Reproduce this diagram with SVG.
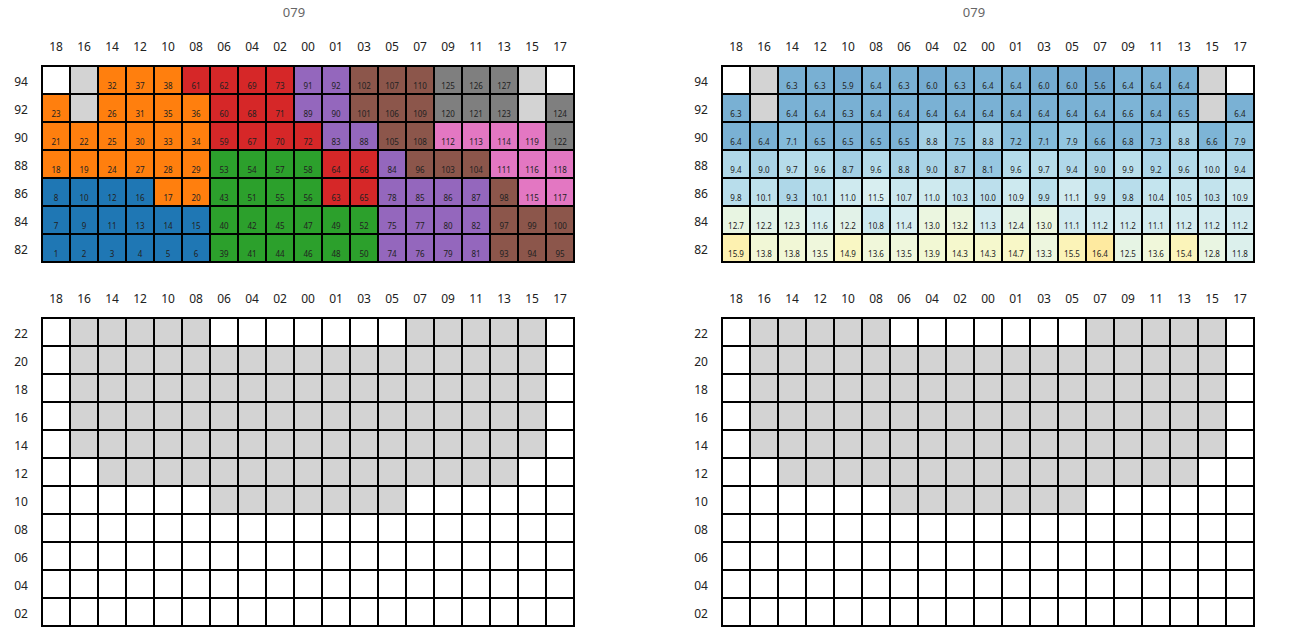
<svg xmlns="http://www.w3.org/2000/svg" xmlns:xlink="http://www.w3.org/1999/xlink" width="1305" height="639" viewBox="0 0 1305 639">
<style>
text{font-family:"Noto Sans","DejaVu Sans",sans-serif}
.t{font-size:13px;fill:#666;text-anchor:middle}
.l{font-size:12px;fill:#222;text-anchor:middle}
.v{font-size:8px;fill:#222;text-anchor:middle}
.cells rect{stroke:#000;stroke-width:2}
.wh{fill:#fff}.lg{fill:#d3d3d3}
.bl{fill:#1f77b4}.or{fill:#ff7f0e}.gr{fill:#2ca02c}.rd{fill:#d62728}
.pu{fill:#9467bd}.br{fill:#8c564b}.pk{fill:#e377c2}.gy{fill:#7f7f7f}
.grid{fill:none;stroke:#000;stroke-width:2}
</style>
<defs>
<g id="collabels">
<text class="l" x="56">18</text><text class="l" x="84">16</text><text class="l" x="112">14</text><text class="l" x="140">12</text><text class="l" x="168">10</text><text class="l" x="196">08</text><text class="l" x="224">06</text><text class="l" x="252">04</text><text class="l" x="280">02</text><text class="l" x="308">00</text><text class="l" x="336">01</text><text class="l" x="364">03</text><text class="l" x="392">05</text><text class="l" x="420">07</text><text class="l" x="448">09</text><text class="l" x="476">11</text><text class="l" x="504">13</text><text class="l" x="532">15</text><text class="l" x="560">17</text>
</g>
<g id="toprows">
<text class="l" x="21" y="86">94</text><text class="l" x="21" y="114">92</text><text class="l" x="21" y="142">90</text><text class="l" x="21" y="170">88</text><text class="l" x="21" y="198">86</text><text class="l" x="21" y="226">84</text><text class="l" x="21" y="254">82</text>
</g>
<g id="bottomgrid">
<rect x="42" y="318" width="532" height="308" fill="#fff"/>
<g fill="#d3d3d3">
<rect x="70" y="318" width="140" height="28"/>
<rect x="406" y="318" width="140" height="28"/>
<rect x="70" y="346" width="476" height="112"/>
<rect x="98" y="458" width="420" height="28"/>
<rect x="210" y="486" width="196" height="28"/>
</g>
<path class="grid" d="M70 318V626M98 318V626M126 318V626M154 318V626M182 318V626M210 318V626M238 318V626M266 318V626M294 318V626M322 318V626M350 318V626M378 318V626M406 318V626M434 318V626M462 318V626M490 318V626M518 318V626M546 318V626M42 346H574M42 374H574M42 402H574M42 430H574M42 458H574M42 486H574M42 514H574M42 542H574M42 570H574M42 598H574"/>
<rect class="grid" x="42" y="318" width="532" height="308"/>
<use xlink:href="#collabels" href="#collabels" y="303"/>
<text class="l" x="21" y="338">22</text><text class="l" x="21" y="366">20</text><text class="l" x="21" y="394">18</text><text class="l" x="21" y="422">16</text><text class="l" x="21" y="450">14</text><text class="l" x="21" y="478">12</text><text class="l" x="21" y="506">10</text><text class="l" x="21" y="534">08</text><text class="l" x="21" y="562">06</text><text class="l" x="21" y="590">04</text><text class="l" x="21" y="618">02</text>
</g>
</defs>
<rect width="1305" height="639" fill="#fff"/>

<g id="panel-top-left">
<text class="t" x="294" y="17">079</text>
<use xlink:href="#collabels" href="#collabels" y="51"/>
<use xlink:href="#toprows" href="#toprows"/>
<g class="cells">
<rect class="wh" x="42" y="66" width="28" height="28"/><rect class="lg" x="70" y="66" width="28" height="28"/><rect class="or" x="98" y="66" width="28" height="28"/><rect class="or" x="126" y="66" width="28" height="28"/><rect class="or" x="154" y="66" width="28" height="28"/><rect class="rd" x="182" y="66" width="28" height="28"/><rect class="rd" x="210" y="66" width="28" height="28"/><rect class="rd" x="238" y="66" width="28" height="28"/><rect class="rd" x="266" y="66" width="28" height="28"/><rect class="pu" x="294" y="66" width="28" height="28"/><rect class="pu" x="322" y="66" width="28" height="28"/><rect class="br" x="350" y="66" width="28" height="28"/><rect class="br" x="378" y="66" width="28" height="28"/><rect class="br" x="406" y="66" width="28" height="28"/><rect class="gy" x="434" y="66" width="28" height="28"/><rect class="gy" x="462" y="66" width="28" height="28"/><rect class="gy" x="490" y="66" width="28" height="28"/><rect class="lg" x="518" y="66" width="28" height="28"/><rect class="wh" x="546" y="66" width="28" height="28"/>
<rect class="or" x="42" y="94" width="28" height="28"/><rect class="lg" x="70" y="94" width="28" height="28"/><rect class="or" x="98" y="94" width="28" height="28"/><rect class="or" x="126" y="94" width="28" height="28"/><rect class="or" x="154" y="94" width="28" height="28"/><rect class="or" x="182" y="94" width="28" height="28"/><rect class="rd" x="210" y="94" width="28" height="28"/><rect class="rd" x="238" y="94" width="28" height="28"/><rect class="rd" x="266" y="94" width="28" height="28"/><rect class="pu" x="294" y="94" width="28" height="28"/><rect class="pu" x="322" y="94" width="28" height="28"/><rect class="br" x="350" y="94" width="28" height="28"/><rect class="br" x="378" y="94" width="28" height="28"/><rect class="br" x="406" y="94" width="28" height="28"/><rect class="gy" x="434" y="94" width="28" height="28"/><rect class="gy" x="462" y="94" width="28" height="28"/><rect class="gy" x="490" y="94" width="28" height="28"/><rect class="lg" x="518" y="94" width="28" height="28"/><rect class="gy" x="546" y="94" width="28" height="28"/>
<rect class="or" x="42" y="122" width="28" height="28"/><rect class="or" x="70" y="122" width="28" height="28"/><rect class="or" x="98" y="122" width="28" height="28"/><rect class="or" x="126" y="122" width="28" height="28"/><rect class="or" x="154" y="122" width="28" height="28"/><rect class="or" x="182" y="122" width="28" height="28"/><rect class="rd" x="210" y="122" width="28" height="28"/><rect class="rd" x="238" y="122" width="28" height="28"/><rect class="rd" x="266" y="122" width="28" height="28"/><rect class="rd" x="294" y="122" width="28" height="28"/><rect class="pu" x="322" y="122" width="28" height="28"/><rect class="pu" x="350" y="122" width="28" height="28"/><rect class="br" x="378" y="122" width="28" height="28"/><rect class="br" x="406" y="122" width="28" height="28"/><rect class="pk" x="434" y="122" width="28" height="28"/><rect class="pk" x="462" y="122" width="28" height="28"/><rect class="pk" x="490" y="122" width="28" height="28"/><rect class="pk" x="518" y="122" width="28" height="28"/><rect class="gy" x="546" y="122" width="28" height="28"/>
<rect class="or" x="42" y="150" width="28" height="28"/><rect class="or" x="70" y="150" width="28" height="28"/><rect class="or" x="98" y="150" width="28" height="28"/><rect class="or" x="126" y="150" width="28" height="28"/><rect class="or" x="154" y="150" width="28" height="28"/><rect class="or" x="182" y="150" width="28" height="28"/><rect class="gr" x="210" y="150" width="28" height="28"/><rect class="gr" x="238" y="150" width="28" height="28"/><rect class="gr" x="266" y="150" width="28" height="28"/><rect class="gr" x="294" y="150" width="28" height="28"/><rect class="rd" x="322" y="150" width="28" height="28"/><rect class="rd" x="350" y="150" width="28" height="28"/><rect class="pu" x="378" y="150" width="28" height="28"/><rect class="br" x="406" y="150" width="28" height="28"/><rect class="br" x="434" y="150" width="28" height="28"/><rect class="br" x="462" y="150" width="28" height="28"/><rect class="pk" x="490" y="150" width="28" height="28"/><rect class="pk" x="518" y="150" width="28" height="28"/><rect class="pk" x="546" y="150" width="28" height="28"/>
<rect class="bl" x="42" y="178" width="28" height="28"/><rect class="bl" x="70" y="178" width="28" height="28"/><rect class="bl" x="98" y="178" width="28" height="28"/><rect class="bl" x="126" y="178" width="28" height="28"/><rect class="or" x="154" y="178" width="28" height="28"/><rect class="or" x="182" y="178" width="28" height="28"/><rect class="gr" x="210" y="178" width="28" height="28"/><rect class="gr" x="238" y="178" width="28" height="28"/><rect class="gr" x="266" y="178" width="28" height="28"/><rect class="gr" x="294" y="178" width="28" height="28"/><rect class="rd" x="322" y="178" width="28" height="28"/><rect class="rd" x="350" y="178" width="28" height="28"/><rect class="pu" x="378" y="178" width="28" height="28"/><rect class="pu" x="406" y="178" width="28" height="28"/><rect class="pu" x="434" y="178" width="28" height="28"/><rect class="pu" x="462" y="178" width="28" height="28"/><rect class="br" x="490" y="178" width="28" height="28"/><rect class="pk" x="518" y="178" width="28" height="28"/><rect class="pk" x="546" y="178" width="28" height="28"/>
<rect class="bl" x="42" y="206" width="28" height="28"/><rect class="bl" x="70" y="206" width="28" height="28"/><rect class="bl" x="98" y="206" width="28" height="28"/><rect class="bl" x="126" y="206" width="28" height="28"/><rect class="bl" x="154" y="206" width="28" height="28"/><rect class="bl" x="182" y="206" width="28" height="28"/><rect class="gr" x="210" y="206" width="28" height="28"/><rect class="gr" x="238" y="206" width="28" height="28"/><rect class="gr" x="266" y="206" width="28" height="28"/><rect class="gr" x="294" y="206" width="28" height="28"/><rect class="gr" x="322" y="206" width="28" height="28"/><rect class="gr" x="350" y="206" width="28" height="28"/><rect class="pu" x="378" y="206" width="28" height="28"/><rect class="pu" x="406" y="206" width="28" height="28"/><rect class="pu" x="434" y="206" width="28" height="28"/><rect class="pu" x="462" y="206" width="28" height="28"/><rect class="br" x="490" y="206" width="28" height="28"/><rect class="br" x="518" y="206" width="28" height="28"/><rect class="br" x="546" y="206" width="28" height="28"/>
<rect class="bl" x="42" y="234" width="28" height="28"/><rect class="bl" x="70" y="234" width="28" height="28"/><rect class="bl" x="98" y="234" width="28" height="28"/><rect class="bl" x="126" y="234" width="28" height="28"/><rect class="bl" x="154" y="234" width="28" height="28"/><rect class="bl" x="182" y="234" width="28" height="28"/><rect class="gr" x="210" y="234" width="28" height="28"/><rect class="gr" x="238" y="234" width="28" height="28"/><rect class="gr" x="266" y="234" width="28" height="28"/><rect class="gr" x="294" y="234" width="28" height="28"/><rect class="gr" x="322" y="234" width="28" height="28"/><rect class="gr" x="350" y="234" width="28" height="28"/><rect class="pu" x="378" y="234" width="28" height="28"/><rect class="pu" x="406" y="234" width="28" height="28"/><rect class="pu" x="434" y="234" width="28" height="28"/><rect class="pu" x="462" y="234" width="28" height="28"/><rect class="br" x="490" y="234" width="28" height="28"/><rect class="br" x="518" y="234" width="28" height="28"/><rect class="br" x="546" y="234" width="28" height="28"/>
</g>
<g class="vals">
<text class="v" x="112" y="88.5">32</text><text class="v" x="140" y="88.5">37</text><text class="v" x="168" y="88.5">38</text><text class="v" x="196" y="88.5">61</text><text class="v" x="224" y="88.5">62</text><text class="v" x="252" y="88.5">69</text><text class="v" x="280" y="88.5">73</text><text class="v" x="308" y="88.5">91</text><text class="v" x="336" y="88.5">92</text><text class="v" x="364" y="88.5">102</text><text class="v" x="392" y="88.5">107</text><text class="v" x="420" y="88.5">110</text><text class="v" x="448" y="88.5">125</text><text class="v" x="476" y="88.5">126</text><text class="v" x="504" y="88.5">127</text>
<text class="v" x="56" y="116.5">23</text><text class="v" x="112" y="116.5">26</text><text class="v" x="140" y="116.5">31</text><text class="v" x="168" y="116.5">35</text><text class="v" x="196" y="116.5">36</text><text class="v" x="224" y="116.5">60</text><text class="v" x="252" y="116.5">68</text><text class="v" x="280" y="116.5">71</text><text class="v" x="308" y="116.5">89</text><text class="v" x="336" y="116.5">90</text><text class="v" x="364" y="116.5">101</text><text class="v" x="392" y="116.5">106</text><text class="v" x="420" y="116.5">109</text><text class="v" x="448" y="116.5">120</text><text class="v" x="476" y="116.5">121</text><text class="v" x="504" y="116.5">123</text><text class="v" x="560" y="116.5">124</text>
<text class="v" x="56" y="144.5">21</text><text class="v" x="84" y="144.5">22</text><text class="v" x="112" y="144.5">25</text><text class="v" x="140" y="144.5">30</text><text class="v" x="168" y="144.5">33</text><text class="v" x="196" y="144.5">34</text><text class="v" x="224" y="144.5">59</text><text class="v" x="252" y="144.5">67</text><text class="v" x="280" y="144.5">70</text><text class="v" x="308" y="144.5">72</text><text class="v" x="336" y="144.5">83</text><text class="v" x="364" y="144.5">88</text><text class="v" x="392" y="144.5">105</text><text class="v" x="420" y="144.5">108</text><text class="v" x="448" y="144.5">112</text><text class="v" x="476" y="144.5">113</text><text class="v" x="504" y="144.5">114</text><text class="v" x="532" y="144.5">119</text><text class="v" x="560" y="144.5">122</text>
<text class="v" x="56" y="172.5">18</text><text class="v" x="84" y="172.5">19</text><text class="v" x="112" y="172.5">24</text><text class="v" x="140" y="172.5">27</text><text class="v" x="168" y="172.5">28</text><text class="v" x="196" y="172.5">29</text><text class="v" x="224" y="172.5">53</text><text class="v" x="252" y="172.5">54</text><text class="v" x="280" y="172.5">57</text><text class="v" x="308" y="172.5">58</text><text class="v" x="336" y="172.5">64</text><text class="v" x="364" y="172.5">66</text><text class="v" x="392" y="172.5">84</text><text class="v" x="420" y="172.5">96</text><text class="v" x="448" y="172.5">103</text><text class="v" x="476" y="172.5">104</text><text class="v" x="504" y="172.5">111</text><text class="v" x="532" y="172.5">116</text><text class="v" x="560" y="172.5">118</text>
<text class="v" x="56" y="200.5">8</text><text class="v" x="84" y="200.5">10</text><text class="v" x="112" y="200.5">12</text><text class="v" x="140" y="200.5">16</text><text class="v" x="168" y="200.5">17</text><text class="v" x="196" y="200.5">20</text><text class="v" x="224" y="200.5">43</text><text class="v" x="252" y="200.5">51</text><text class="v" x="280" y="200.5">55</text><text class="v" x="308" y="200.5">56</text><text class="v" x="336" y="200.5">63</text><text class="v" x="364" y="200.5">65</text><text class="v" x="392" y="200.5">78</text><text class="v" x="420" y="200.5">85</text><text class="v" x="448" y="200.5">86</text><text class="v" x="476" y="200.5">87</text><text class="v" x="504" y="200.5">98</text><text class="v" x="532" y="200.5">115</text><text class="v" x="560" y="200.5">117</text>
<text class="v" x="56" y="228.5">7</text><text class="v" x="84" y="228.5">9</text><text class="v" x="112" y="228.5">11</text><text class="v" x="140" y="228.5">13</text><text class="v" x="168" y="228.5">14</text><text class="v" x="196" y="228.5">15</text><text class="v" x="224" y="228.5">40</text><text class="v" x="252" y="228.5">42</text><text class="v" x="280" y="228.5">45</text><text class="v" x="308" y="228.5">47</text><text class="v" x="336" y="228.5">49</text><text class="v" x="364" y="228.5">52</text><text class="v" x="392" y="228.5">75</text><text class="v" x="420" y="228.5">77</text><text class="v" x="448" y="228.5">80</text><text class="v" x="476" y="228.5">82</text><text class="v" x="504" y="228.5">97</text><text class="v" x="532" y="228.5">99</text><text class="v" x="560" y="228.5">100</text>
<text class="v" x="56" y="256.5">1</text><text class="v" x="84" y="256.5">2</text><text class="v" x="112" y="256.5">3</text><text class="v" x="140" y="256.5">4</text><text class="v" x="168" y="256.5">5</text><text class="v" x="196" y="256.5">6</text><text class="v" x="224" y="256.5">39</text><text class="v" x="252" y="256.5">41</text><text class="v" x="280" y="256.5">44</text><text class="v" x="308" y="256.5">46</text><text class="v" x="336" y="256.5">48</text><text class="v" x="364" y="256.5">50</text><text class="v" x="392" y="256.5">74</text><text class="v" x="420" y="256.5">76</text><text class="v" x="448" y="256.5">79</text><text class="v" x="476" y="256.5">81</text><text class="v" x="504" y="256.5">93</text><text class="v" x="532" y="256.5">94</text><text class="v" x="560" y="256.5">95</text>
</g>
</g>

<g id="panel-top-right" transform="translate(680,0)">
<text class="t" x="294" y="17">079</text>
<use xlink:href="#collabels" href="#collabels" y="51"/>
<use xlink:href="#toprows" href="#toprows"/>
<g class="cells">
<rect class="wh" x="42" y="66" width="28" height="28"/><rect class="lg" x="70" y="66" width="28" height="28"/><rect fill="#79b0d3" x="98" y="66" width="28" height="28"/><rect fill="#79b0d3" x="126" y="66" width="28" height="28"/><rect fill="#73aad0" x="154" y="66" width="28" height="28"/><rect fill="#7ab1d4" x="182" y="66" width="28" height="28"/><rect fill="#79b0d3" x="210" y="66" width="28" height="28"/><rect fill="#75acd1" x="238" y="66" width="28" height="28"/><rect fill="#79b0d3" x="266" y="66" width="28" height="28"/><rect fill="#7ab1d4" x="294" y="66" width="28" height="28"/><rect fill="#7ab1d4" x="322" y="66" width="28" height="28"/><rect fill="#75acd1" x="350" y="66" width="28" height="28"/><rect fill="#75acd1" x="378" y="66" width="28" height="28"/><rect fill="#6fa6cd" x="406" y="66" width="28" height="28"/><rect fill="#7ab1d4" x="434" y="66" width="28" height="28"/><rect fill="#7ab1d4" x="462" y="66" width="28" height="28"/><rect fill="#7ab1d4" x="490" y="66" width="28" height="28"/><rect class="lg" x="518" y="66" width="28" height="28"/><rect class="wh" x="546" y="66" width="28" height="28"/>
<rect fill="#79b0d3" x="42" y="94" width="28" height="28"/><rect class="lg" x="70" y="94" width="28" height="28"/><rect fill="#7ab1d4" x="98" y="94" width="28" height="28"/><rect fill="#7ab1d4" x="126" y="94" width="28" height="28"/><rect fill="#79b0d3" x="154" y="94" width="28" height="28"/><rect fill="#7ab1d4" x="182" y="94" width="28" height="28"/><rect fill="#7ab1d4" x="210" y="94" width="28" height="28"/><rect fill="#7ab1d4" x="238" y="94" width="28" height="28"/><rect fill="#7ab1d4" x="266" y="94" width="28" height="28"/><rect fill="#7ab1d4" x="294" y="94" width="28" height="28"/><rect fill="#7ab1d4" x="322" y="94" width="28" height="28"/><rect fill="#7ab1d4" x="350" y="94" width="28" height="28"/><rect fill="#7ab1d4" x="378" y="94" width="28" height="28"/><rect fill="#7ab1d4" x="406" y="94" width="28" height="28"/><rect fill="#7db4d6" x="434" y="94" width="28" height="28"/><rect fill="#7ab1d4" x="462" y="94" width="28" height="28"/><rect fill="#7cb2d5" x="490" y="94" width="28" height="28"/><rect class="lg" x="518" y="94" width="28" height="28"/><rect fill="#7ab1d4" x="546" y="94" width="28" height="28"/>
<rect fill="#7ab1d4" x="42" y="122" width="28" height="28"/><rect fill="#7ab1d4" x="70" y="122" width="28" height="28"/><rect fill="#84bbda" x="98" y="122" width="28" height="28"/><rect fill="#7cb2d5" x="126" y="122" width="28" height="28"/><rect fill="#7cb2d5" x="154" y="122" width="28" height="28"/><rect fill="#7cb2d5" x="182" y="122" width="28" height="28"/><rect fill="#7cb2d5" x="210" y="122" width="28" height="28"/><rect fill="#a5d0e5" x="238" y="122" width="28" height="28"/><rect fill="#8ac0dd" x="266" y="122" width="28" height="28"/><rect fill="#a5d0e5" x="294" y="122" width="28" height="28"/><rect fill="#86bcdb" x="322" y="122" width="28" height="28"/><rect fill="#84bbda" x="350" y="122" width="28" height="28"/><rect fill="#92c5e0" x="378" y="122" width="28" height="28"/><rect fill="#7db4d6" x="406" y="122" width="28" height="28"/><rect fill="#80b6d7" x="434" y="122" width="28" height="28"/><rect fill="#87bddc" x="462" y="122" width="28" height="28"/><rect fill="#a5d0e5" x="490" y="122" width="28" height="28"/><rect fill="#7db4d6" x="518" y="122" width="28" height="28"/><rect fill="#92c5e0" x="546" y="122" width="28" height="28"/>
<rect fill="#b0d8e9" x="42" y="150" width="28" height="28"/><rect fill="#a9d3e6" x="70" y="150" width="28" height="28"/><rect fill="#b6dcea" x="98" y="150" width="28" height="28"/><rect fill="#b4dbea" x="126" y="150" width="28" height="28"/><rect fill="#a3cfe4" x="154" y="150" width="28" height="28"/><rect fill="#b4dbea" x="182" y="150" width="28" height="28"/><rect fill="#a5d0e5" x="210" y="150" width="28" height="28"/><rect fill="#a9d3e6" x="238" y="150" width="28" height="28"/><rect fill="#a3cfe4" x="266" y="150" width="28" height="28"/><rect fill="#96c7e1" x="294" y="150" width="28" height="28"/><rect fill="#b4dbea" x="322" y="150" width="28" height="28"/><rect fill="#b6dcea" x="350" y="150" width="28" height="28"/><rect fill="#b0d8e9" x="378" y="150" width="28" height="28"/><rect fill="#a9d3e6" x="406" y="150" width="28" height="28"/><rect fill="#badfeb" x="434" y="150" width="28" height="28"/><rect fill="#acd6e8" x="462" y="150" width="28" height="28"/><rect fill="#b4dbea" x="490" y="150" width="28" height="28"/><rect fill="#bcdfec" x="518" y="150" width="28" height="28"/><rect fill="#b0d8e9" x="546" y="150" width="28" height="28"/>
<rect fill="#b8ddeb" x="42" y="178" width="28" height="28"/><rect fill="#bee1ec" x="70" y="178" width="28" height="28"/><rect fill="#aed7e8" x="98" y="178" width="28" height="28"/><rect fill="#bee1ec" x="126" y="178" width="28" height="28"/><rect fill="#cfeaef" x="154" y="178" width="28" height="28"/><rect fill="#d8eef0" x="182" y="178" width="28" height="28"/><rect fill="#cae7ee" x="210" y="178" width="28" height="28"/><rect fill="#cfeaef" x="238" y="178" width="28" height="28"/><rect fill="#c2e3ed" x="266" y="178" width="28" height="28"/><rect fill="#bcdfec" x="294" y="178" width="28" height="28"/><rect fill="#cde9ef" x="322" y="178" width="28" height="28"/><rect fill="#badfeb" x="350" y="178" width="28" height="28"/><rect fill="#d1eaef" x="378" y="178" width="28" height="28"/><rect fill="#badfeb" x="406" y="178" width="28" height="28"/><rect fill="#b8ddeb" x="434" y="178" width="28" height="28"/><rect fill="#c4e4ee" x="462" y="178" width="28" height="28"/><rect fill="#c6e5ee" x="490" y="178" width="28" height="28"/><rect fill="#c2e3ed" x="518" y="178" width="28" height="28"/><rect fill="#cde9ef" x="546" y="178" width="28" height="28"/>
<rect fill="#e8f5e2" x="42" y="206" width="28" height="28"/><rect fill="#e2f2e8" x="70" y="206" width="28" height="28"/><rect fill="#e3f3e6" x="98" y="206" width="28" height="28"/><rect fill="#d9efef" x="126" y="206" width="28" height="28"/><rect fill="#e2f2e8" x="154" y="206" width="28" height="28"/><rect fill="#cbe8ef" x="182" y="206" width="28" height="28"/><rect fill="#d6edf0" x="210" y="206" width="28" height="28"/><rect fill="#ebf6e0" x="238" y="206" width="28" height="28"/><rect fill="#ecf6de" x="266" y="206" width="28" height="28"/><rect fill="#d4ecf0" x="294" y="206" width="28" height="28"/><rect fill="#e5f3e5" x="322" y="206" width="28" height="28"/><rect fill="#ebf6e0" x="350" y="206" width="28" height="28"/><rect fill="#d1eaef" x="378" y="206" width="28" height="28"/><rect fill="#d3ebef" x="406" y="206" width="28" height="28"/><rect fill="#d3ebef" x="434" y="206" width="28" height="28"/><rect fill="#d1eaef" x="462" y="206" width="28" height="28"/><rect fill="#d3ebef" x="490" y="206" width="28" height="28"/><rect fill="#d3ebef" x="518" y="206" width="28" height="28"/><rect fill="#d3ebef" x="546" y="206" width="28" height="28"/>
<rect fill="#fdf1b0" x="42" y="234" width="28" height="28"/><rect fill="#f1f7d6" x="70" y="234" width="28" height="28"/><rect fill="#f1f7d6" x="98" y="234" width="28" height="28"/><rect fill="#eff7dc" x="126" y="234" width="28" height="28"/><rect fill="#f9f7c4" x="154" y="234" width="28" height="28"/><rect fill="#f0f7da" x="182" y="234" width="28" height="28"/><rect fill="#eff7dc" x="210" y="234" width="28" height="28"/><rect fill="#f2f8d4" x="238" y="234" width="28" height="28"/><rect fill="#f5f8cd" x="266" y="234" width="28" height="28"/><rect fill="#f5f8cd" x="294" y="234" width="28" height="28"/><rect fill="#f8f7c7" x="322" y="234" width="28" height="28"/><rect fill="#edf6de" x="350" y="234" width="28" height="28"/><rect fill="#fbf3b8" x="378" y="234" width="28" height="28"/><rect fill="#feeaa0" x="406" y="234" width="28" height="28"/><rect fill="#e6f4e4" x="434" y="234" width="28" height="28"/><rect fill="#f0f7da" x="462" y="234" width="28" height="28"/><rect fill="#fbf4ba" x="490" y="234" width="28" height="28"/><rect fill="#e9f5e2" x="518" y="234" width="28" height="28"/><rect fill="#dcf0ec" x="546" y="234" width="28" height="28"/>
</g>
<g class="vals">
<text class="v" x="112" y="88.5">6.3</text><text class="v" x="140" y="88.5">6.3</text><text class="v" x="168" y="88.5">5.9</text><text class="v" x="196" y="88.5">6.4</text><text class="v" x="224" y="88.5">6.3</text><text class="v" x="252" y="88.5">6.0</text><text class="v" x="280" y="88.5">6.3</text><text class="v" x="308" y="88.5">6.4</text><text class="v" x="336" y="88.5">6.4</text><text class="v" x="364" y="88.5">6.0</text><text class="v" x="392" y="88.5">6.0</text><text class="v" x="420" y="88.5">5.6</text><text class="v" x="448" y="88.5">6.4</text><text class="v" x="476" y="88.5">6.4</text><text class="v" x="504" y="88.5">6.4</text>
<text class="v" x="56" y="116.5">6.3</text><text class="v" x="112" y="116.5">6.4</text><text class="v" x="140" y="116.5">6.4</text><text class="v" x="168" y="116.5">6.3</text><text class="v" x="196" y="116.5">6.4</text><text class="v" x="224" y="116.5">6.4</text><text class="v" x="252" y="116.5">6.4</text><text class="v" x="280" y="116.5">6.4</text><text class="v" x="308" y="116.5">6.4</text><text class="v" x="336" y="116.5">6.4</text><text class="v" x="364" y="116.5">6.4</text><text class="v" x="392" y="116.5">6.4</text><text class="v" x="420" y="116.5">6.4</text><text class="v" x="448" y="116.5">6.6</text><text class="v" x="476" y="116.5">6.4</text><text class="v" x="504" y="116.5">6.5</text><text class="v" x="560" y="116.5">6.4</text>
<text class="v" x="56" y="144.5">6.4</text><text class="v" x="84" y="144.5">6.4</text><text class="v" x="112" y="144.5">7.1</text><text class="v" x="140" y="144.5">6.5</text><text class="v" x="168" y="144.5">6.5</text><text class="v" x="196" y="144.5">6.5</text><text class="v" x="224" y="144.5">6.5</text><text class="v" x="252" y="144.5">8.8</text><text class="v" x="280" y="144.5">7.5</text><text class="v" x="308" y="144.5">8.8</text><text class="v" x="336" y="144.5">7.2</text><text class="v" x="364" y="144.5">7.1</text><text class="v" x="392" y="144.5">7.9</text><text class="v" x="420" y="144.5">6.6</text><text class="v" x="448" y="144.5">6.8</text><text class="v" x="476" y="144.5">7.3</text><text class="v" x="504" y="144.5">8.8</text><text class="v" x="532" y="144.5">6.6</text><text class="v" x="560" y="144.5">7.9</text>
<text class="v" x="56" y="172.5">9.4</text><text class="v" x="84" y="172.5">9.0</text><text class="v" x="112" y="172.5">9.7</text><text class="v" x="140" y="172.5">9.6</text><text class="v" x="168" y="172.5">8.7</text><text class="v" x="196" y="172.5">9.6</text><text class="v" x="224" y="172.5">8.8</text><text class="v" x="252" y="172.5">9.0</text><text class="v" x="280" y="172.5">8.7</text><text class="v" x="308" y="172.5">8.1</text><text class="v" x="336" y="172.5">9.6</text><text class="v" x="364" y="172.5">9.7</text><text class="v" x="392" y="172.5">9.4</text><text class="v" x="420" y="172.5">9.0</text><text class="v" x="448" y="172.5">9.9</text><text class="v" x="476" y="172.5">9.2</text><text class="v" x="504" y="172.5">9.6</text><text class="v" x="532" y="172.5">10.0</text><text class="v" x="560" y="172.5">9.4</text>
<text class="v" x="56" y="200.5">9.8</text><text class="v" x="84" y="200.5">10.1</text><text class="v" x="112" y="200.5">9.3</text><text class="v" x="140" y="200.5">10.1</text><text class="v" x="168" y="200.5">11.0</text><text class="v" x="196" y="200.5">11.5</text><text class="v" x="224" y="200.5">10.7</text><text class="v" x="252" y="200.5">11.0</text><text class="v" x="280" y="200.5">10.3</text><text class="v" x="308" y="200.5">10.0</text><text class="v" x="336" y="200.5">10.9</text><text class="v" x="364" y="200.5">9.9</text><text class="v" x="392" y="200.5">11.1</text><text class="v" x="420" y="200.5">9.9</text><text class="v" x="448" y="200.5">9.8</text><text class="v" x="476" y="200.5">10.4</text><text class="v" x="504" y="200.5">10.5</text><text class="v" x="532" y="200.5">10.3</text><text class="v" x="560" y="200.5">10.9</text>
<text class="v" x="56" y="228.5">12.7</text><text class="v" x="84" y="228.5">12.2</text><text class="v" x="112" y="228.5">12.3</text><text class="v" x="140" y="228.5">11.6</text><text class="v" x="168" y="228.5">12.2</text><text class="v" x="196" y="228.5">10.8</text><text class="v" x="224" y="228.5">11.4</text><text class="v" x="252" y="228.5">13.0</text><text class="v" x="280" y="228.5">13.2</text><text class="v" x="308" y="228.5">11.3</text><text class="v" x="336" y="228.5">12.4</text><text class="v" x="364" y="228.5">13.0</text><text class="v" x="392" y="228.5">11.1</text><text class="v" x="420" y="228.5">11.2</text><text class="v" x="448" y="228.5">11.2</text><text class="v" x="476" y="228.5">11.1</text><text class="v" x="504" y="228.5">11.2</text><text class="v" x="532" y="228.5">11.2</text><text class="v" x="560" y="228.5">11.2</text>
<text class="v" x="56" y="256.5">15.9</text><text class="v" x="84" y="256.5">13.8</text><text class="v" x="112" y="256.5">13.8</text><text class="v" x="140" y="256.5">13.5</text><text class="v" x="168" y="256.5">14.9</text><text class="v" x="196" y="256.5">13.6</text><text class="v" x="224" y="256.5">13.5</text><text class="v" x="252" y="256.5">13.9</text><text class="v" x="280" y="256.5">14.3</text><text class="v" x="308" y="256.5">14.3</text><text class="v" x="336" y="256.5">14.7</text><text class="v" x="364" y="256.5">13.3</text><text class="v" x="392" y="256.5">15.5</text><text class="v" x="420" y="256.5">16.4</text><text class="v" x="448" y="256.5">12.5</text><text class="v" x="476" y="256.5">13.6</text><text class="v" x="504" y="256.5">15.4</text><text class="v" x="532" y="256.5">12.8</text><text class="v" x="560" y="256.5">11.8</text>
</g>
</g>

<g id="panel-bottom-left">
<use xlink:href="#bottomgrid" href="#bottomgrid"/>
</g>
<g id="panel-bottom-right" transform="translate(680,0)">
<use xlink:href="#bottomgrid" href="#bottomgrid"/>
</g>
</svg>
